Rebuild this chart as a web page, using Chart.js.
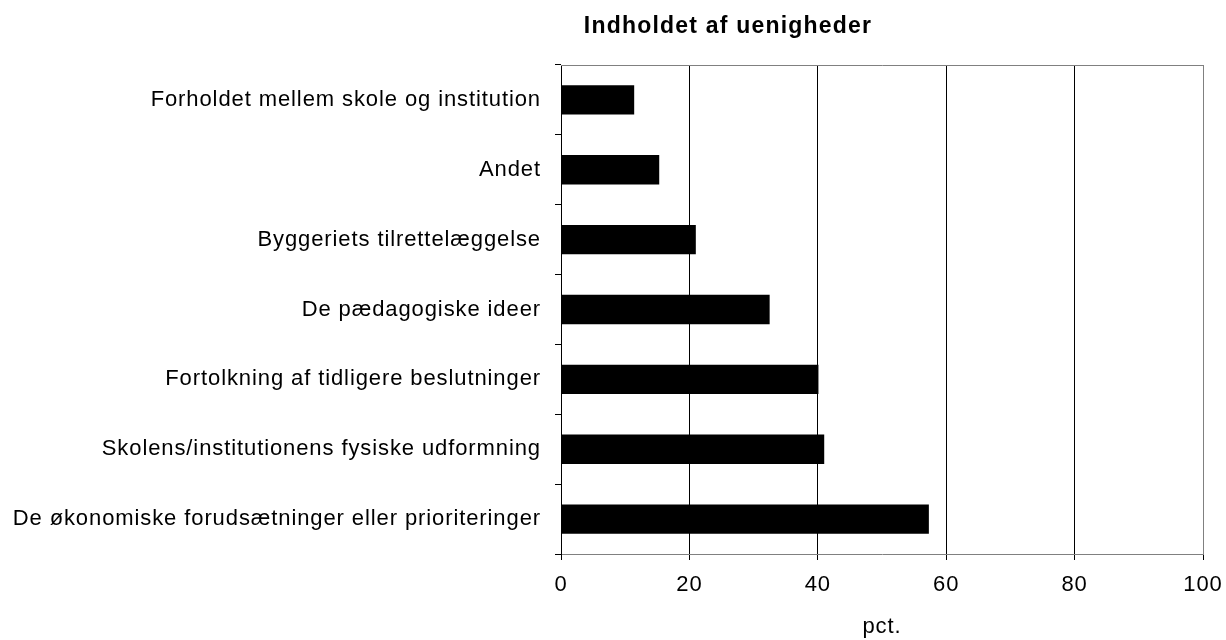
<!DOCTYPE html>
<html>
<head>
<meta charset="utf-8">
<script src="https://cdn.jsdelivr.net/npm/chart.js@4"></script>
<style>
  html, body { margin: 0; padding: 0; background: #fff; }
  #wrap { width: 1226px; height: 640px; }
</style>
</head>
<body>
<div id="wrap"><canvas id="grafico" width="1226" height="640"></canvas></div>
<script>
// data (pct.)
const kategorier = [
    "Forholdet mellem skole og institution",
    "Andet",
    "Byggeriets tilrettelæggelse",
    "De pædagogiske ideer",
    "Fortolkning af tidligere beslutninger",
    "Skolens/institutionens fysiske udformning",
    "De økonomiske forudsætninger eller prioriteringer"
];
const vaerdier = [11.4, 15.3, 21.0, 32.5, 40.1, 41.0, 57.3];
const titel = "Indholdet af uenigheder";
const aksetitel = "pct.";

const skrift = "'Liberation Sans', Arial, Helvetica, sans-serif";

// lidt bredere tekst, som i originalen
const spacing = {
    id: 'spacing',
    beforeUpdate(chart) { chart.ctx.letterSpacing = '0.9px'; },
    beforeDraw(chart) { chart.ctx.letterSpacing = '0.9px'; }
};

// ramme rundt om plotområdet + titlen
const ramme = {
    id: 'ramme',
    afterDatasetsDraw(chart) {
        const { ctx, chartArea: a } = chart;
        ctx.save();
        ctx.strokeStyle = '#808080';
        ctx.lineWidth = 1;
        ctx.beginPath();
        ctx.moveTo(a.left, a.top + 0.5);
        ctx.lineTo(a.right + 0.5, a.top + 0.5);
        ctx.lineTo(a.right + 0.5, a.bottom);
        ctx.stroke();
        ctx.restore();
    },
    afterDraw(chart) {
        const { ctx } = chart;
        ctx.save();
        ctx.fillStyle = '#000';
        ctx.font = "bold 23px " + skrift;
        ctx.letterSpacing = '1.2px';
        ctx.textAlign = 'center';
        ctx.textBaseline = 'middle';
        ctx.fillText(titel, 728, 27);
        ctx.restore();
    }
};

const ctx = document.getElementById('grafico').getContext('2d');

new Chart(ctx, {
    type: 'bar',
    data: {
        labels: kategorier,
        datasets: [{
            data: vaerdier,
            backgroundColor: '#000',
            borderWidth: 0,
            barPercentage: 0.42,
            categoryPercentage: 1
        }]
    },
    options: {
        indexAxis: 'y',
        responsive: false,
        animation: false,
        layout: { padding: { top: 65, right: 23, left: 0, bottom: 0 } },
        plugins: {
            legend: { display: false },
            tooltip: { enabled: false }
        },
        scales: {
            x: {
                min: 0,
                max: 100,
                ticks: {
                    stepSize: 20,
                    color: '#000',
                    padding: 12,
                    font: { family: skrift, size: 22 }
                },
                grid: {
                    color: c => (c.tick && c.tick.value === 100) ? '#808080' : '#000',
                    lineWidth: 1,
                    tickLength: 6,
                    tickColor: '#000'
                },
                border: { display: true, color: '#808080' },
                title: {
                    display: true,
                    text: aksetitel,
                    color: '#000',
                    font: { family: skrift, size: 22 },
                    padding: { top: 0, bottom: 0 }
                },
                afterFit(scale) {
                    scale.height = 86;
                    scale.paddingRight = 0;
                    scale.paddingLeft = 0;
                }
            },
            y: {
                ticks: {
                    color: '#000',
                    padding: 14,
                    font: { family: skrift, size: 22 }
                },
                grid: {
                    offset: true,
                    drawOnChartArea: false,
                    tickLength: 6,
                    tickColor: '#000'
                },
                border: { display: true, color: '#000' },
                afterFit(scale) { scale.width = 561; }
            }
        }
    },
    plugins: [spacing, ramme]
});
</script>
</body>
</html>
